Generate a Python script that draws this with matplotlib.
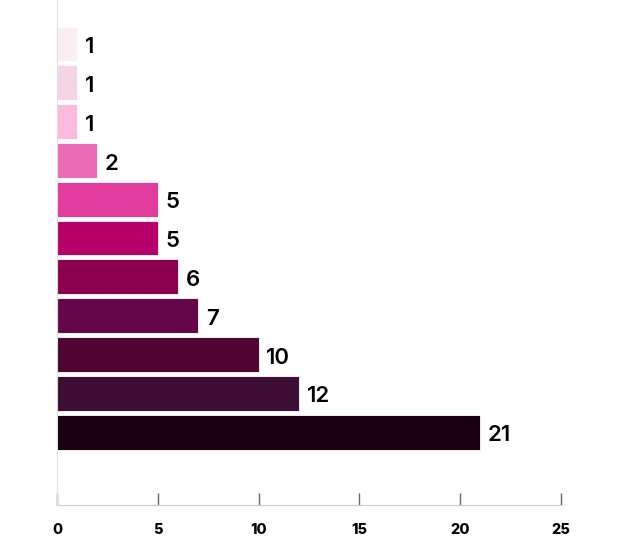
import matplotlib
matplotlib.use("Agg")
import matplotlib.pyplot as plt

values = [1, 1, 1, 2, 5, 5, 6, 7, 10, 12, 21]
colors = ["#fdeef5", "#f5d5e5", "#fbbade", "#eb6cb6", "#e33c9f", "#b8006a",
          "#8c0050", "#66064a", "#4f0633", "#3e0e35", "#1a0012"]
xticks = [0, 5, 10, 15, 20, 25]

fig = plt.figure(figsize=(6.25, 5.44), dpi=100)
ax = fig.add_axes([57/625, 1-505/544, (561-57)/625, 505/544])
pos = list(range(len(values)))
ax.barh(pos, values, height=0.9, color=colors, edgecolor="white", linewidth=0.6)
for p, v in zip(pos, values):
    ax.text(v + 0.38, p + 0.08, str(v), va="center", ha="left", fontsize=16,
            fontweight="semibold", family="Inter", color="black")
ax.set_xlim(0, 25)
ax.set_ylim(11.88, -1.134)
ax.set_yticks([])
ax.set_xticks(xticks)
ax.set_xticklabels([str(t) for t in xticks], fontsize=10.5, fontweight="heavy", family="Inter")
ax.tick_params(axis="x", direction="in", length=9, width=1, color="#666666", pad=13)
for s in ["top", "right"]:
    ax.spines[s].set_visible(False)
ax.spines["left"].set_color("#dddddd")
ax.spines["bottom"].set_color("#cccccc")
fig.savefig("out.png", dpi=100)
